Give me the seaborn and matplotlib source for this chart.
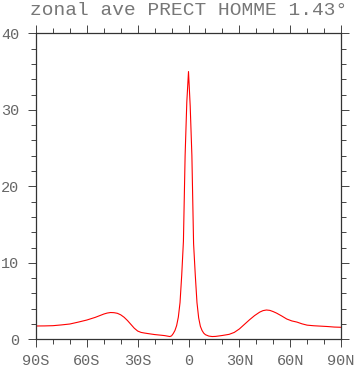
import numpy as np
import pandas as pd
import matplotlib
matplotlib.use("Agg")
import matplotlib.pyplot as plt
import seaborn as sns
from matplotlib.ticker import MultipleLocator

# zonal average precipitation (mm/day)
lat = [-90, -85, -80, -75, -70, -65, -60, -55, -50, -48, -46, -44, -42, -40, -38,
       -36, -34, -32, -30, -28, -26, -24, -20, -16, -14, -12, -11, -10, -9, -8,
       -7, -6, -5, -4, -3, -2, -1, 0, 1, 2, 3, 4, 5, 6, 7, 8, 9, 10, 12, 14, 16,
       20, 24, 27, 30, 33, 36, 39, 42, 44, 46, 48, 50, 52, 55, 58, 61, 64, 67,
       70, 74, 78, 82, 86, 90]
prect = [1.74, 1.75, 1.78, 1.88, 2.0, 2.25, 2.52, 2.87, 3.3, 3.43, 3.5, 3.48, 3.4, 3.2, 2.88,
         2.45, 1.95, 1.45, 1.08, 0.9, 0.82, 0.75, 0.62, 0.53, 0.48, 0.4, 0.36, 0.45, 0.75, 1.15,
         1.8, 2.9, 4.8, 8.4, 12.8, 24.0, 31.0, 35.0, 30.5, 24.0, 12.5, 8.4, 4.8, 2.8, 1.7, 1.15, 0.8, 0.6, 0.42, 0.36, 0.38,
         0.5, 0.65, 0.9, 1.35, 1.95, 2.55, 3.1, 3.55, 3.75, 3.83, 3.78, 3.62, 3.42, 3.05, 2.65, 2.4, 2.25, 2.02,
         1.85, 1.77, 1.72, 1.67, 1.6, 1.57]

xticks = [-90, -60, -30, 0, 30, 60, 90]
xticklabels = ["90S", "60S", "30S", "0", "30N", "60N", "90N"]
yticks = [0, 10, 20, 30, 40]

df = pd.DataFrame({"lat": lat, "prect": prect})

sns.set_style("ticks")
plt.rcParams["font.family"] = ["Liberation Mono", "DejaVu Sans"]

fig = plt.figure(figsize=(3.56, 3.68), dpi=100)
ax = fig.add_axes([36 / 356, 1 - 339.3 / 368, 305 / 356, 306 / 368])

sns.lineplot(data=df, x="lat", y="prect", color="red", linewidth=0.8, ax=ax)

ax.set_xlim(-90, 90)
ax.set_ylim(0, 40)
ax.set_xticks(xticks)
ax.set_xticklabels(xticklabels)
ax.set_yticks(yticks)
ax.xaxis.set_minor_locator(MultipleLocator(10))
ax.yaxis.set_minor_locator(MultipleLocator(2))
ax.set_xlabel("")
ax.set_ylabel("")

for side in ["left", "right", "top", "bottom"]:
    ax.spines[side].set_visible(True)
    ax.spines[side].set_color("#333333")
    ax.spines[side].set_linewidth(0.9)

ax.tick_params(which="both", direction="out", top=True, right=True,
               color="#444444", width=0.7)
ax.tick_params(which="major", length=5.8, labelsize=11, labelcolor="#666666", pad=5)
ax.tick_params(which="minor", length=3.4)
ax.tick_params(axis="y", which="major", pad=6)

fig.text(188.5 / 356, 1 - 15 / 368, "zonal ave PRECT HOMME 1.43°",
         ha="center", va="baseline", fontsize=14, color="#777777")

fig.savefig("out.png", dpi=100)
